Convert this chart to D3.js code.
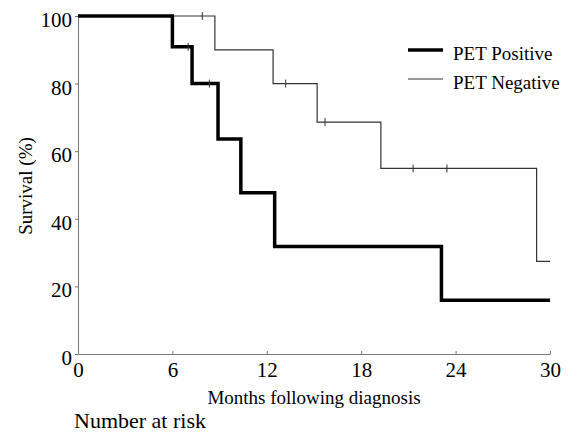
<!DOCTYPE html>
<html>
<head>
<meta charset="utf-8">
<script src="https://cdn.jsdelivr.net/npm/d3@7"></script>
<style>
  body { margin: 0; background: #fff; }
  text { font-family: "Liberation Serif", "Times New Roman", serif; fill: #000; }
</style>
</head>
<body>
<script>
// Kaplan-Meier steps: [month, survival %]
var posSteps = [[0, 100], [6, 90.9], [7.25, 80], [8.9, 63.6], [10.35, 47.7], [12.5, 31.8], [23.1, 15.9], [30, 15.9]];
var negSteps = [[0, 100], [8.7, 90], [12.4, 80], [15.2, 68.6], [19.25, 54.9], [29.15, 27.4], [30, 27.4]];
// censor marks [month, survival %]
var posCensor = [[7.0, 90.9], [8.35, 80]];
var negCensor = [[7.9, 100], [13.2, 80], [15.7, 68.6], [21.3, 54.9], [23.45, 54.9]];

var xTicks = [0, 6, 12, 18, 24, 30];
var yTicks = [0, 20, 40, 60, 80, 100];
var legendLabels = ['PET Positive', 'PET Negative'];

var width = 576, height = 434;
var margin = {left: 78, right: 26, top: 16, bottom: 80};

var svg = d3.select('body').append('svg')
  .attr('width', width)
  .attr('height', height);

var x = d3.scaleLinear().domain([0, 30]).range([margin.left, width - margin.right]);
var y = d3.scaleLinear().domain([0, 100]).range([height - margin.bottom, margin.top]);

// axes
var xAxis = svg.append('g')
  .attr('transform', 'translate(0,' + y(0) + ')')
  .call(d3.axisBottom(x).tickValues(xTicks).tickSize(-3).tickPadding(8).tickSizeOuter(0));
xAxis.select('.domain').attr('stroke', '#777');
xAxis.selectAll('.tick line').attr('stroke', '#777');
xAxis.selectAll('.tick text')
  .style('font-family', '"Liberation Serif", serif')
  .style('font-size', '21px')
  .attr('fill', '#000');

var yAxis = svg.append('g')
  .attr('transform', 'translate(' + x(0) + ',0)')
  .call(d3.axisLeft(y).tickValues(yTicks).tickSize(3).tickPadding(3).tickSizeOuter(0));
yAxis.select('.domain').attr('stroke', '#777');
yAxis.selectAll('.tick line').attr('stroke', '#777');
yAxis.selectAll('.tick text')
  .style('font-family', '"Liberation Serif", serif')
  .style('font-size', '21px')
  .attr('dy', '0.5em')
  .attr('fill', '#000');

// survival curves
var line = d3.line()
  .x(function(d) { return x(d[0]); })
  .y(function(d) { return y(d[1]); })
  .curve(d3.curveStepAfter);

svg.append('path').datum(negSteps)
  .attr('d', line)
  .attr('fill', 'none')
  .attr('stroke', '#333')
  .attr('stroke-width', 1.2);

svg.append('path').datum(posSteps)
  .attr('d', line)
  .attr('fill', 'none')
  .attr('stroke', '#000')
  .attr('stroke-width', 3.5)
  .attr('stroke-linejoin', 'miter')
  .attr('stroke-linecap', 'butt');

// censor marks
svg.selectAll('line.censor')
  .data(posCensor.concat(negCensor))
  .enter().append('line')
  .attr('class', 'censor')
  .attr('x1', function(d) { return x(d[0]); })
  .attr('x2', function(d) { return x(d[0]); })
  .attr('y1', function(d) { return y(d[1]) - 4; })
  .attr('y2', function(d) { return y(d[1]) + 4; })
  .attr('stroke', '#333')
  .attr('stroke-width', 1);

// legend
var legend = svg.append('g').attr('transform', 'translate(408,50)');
legendLabels.forEach(function(lbl, i) {
  var g = legend.append('g').attr('transform', 'translate(0,' + (i * 29) + ')');
  g.append('line')
    .attr('x1', 0).attr('x2', 35)
    .attr('stroke', i === 0 ? '#000' : '#333')
    .attr('stroke-width', i === 0 ? 3.5 : 1.2);
  g.append('text')
    .attr('x', 45).attr('y', 9.5)
    .style('font-size', '19px')
    .text(lbl);
});

// axis titles
svg.append('text')
  .attr('transform', 'translate(32,186) rotate(-90)')
  .attr('text-anchor', 'middle')
  .style('font-size', '19px')
  .text('Survival (%)');

svg.append('text')
  .attr('x', x(15))
  .attr('y', 404)
  .attr('text-anchor', 'middle')
  .style('font-size', '19px')
  .text('Months following diagnosis');

svg.append('text')
  .attr('x', 74)
  .attr('y', 428)
  .style('font-size', '22px')
  .text('Number at risk');
</script>
</body>
</html>
